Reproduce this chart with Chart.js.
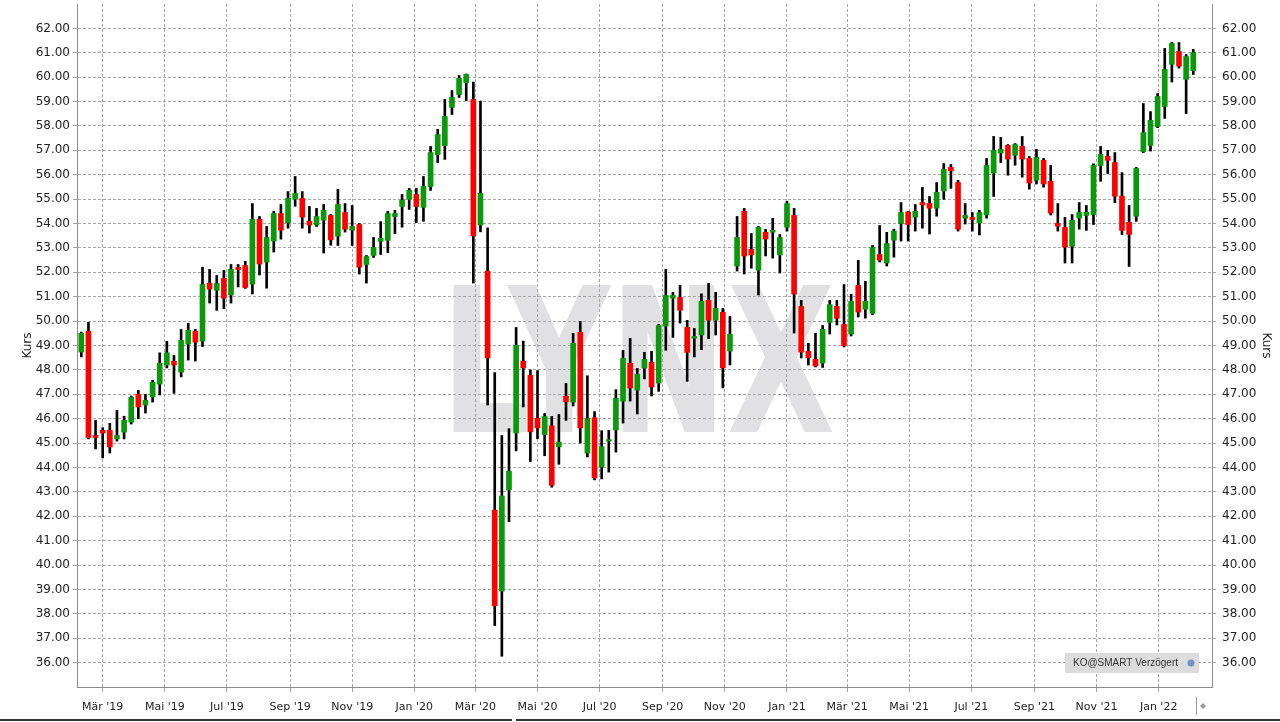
<!DOCTYPE html>
<html>
<head>
<meta charset="utf-8">
<script src="https://cdn.jsdelivr.net/npm/chart.js@4.4.0/dist/chart.umd.min.js"></script>
<style>
html, body { margin: 0; padding: 0; background: #fff; }
#wrap { position: relative; width: 1280px; height: 722px; }
</style>
</head>
<body>
<div id="wrap"><canvas id="kursChart" width="1280" height="722"></canvas></div>
<script>
// weekly candles, first one dated Friday 2019-02-08
const firstWeek = '2019-02-08';

const openP = [48.73,49.58,45.31,45.52,45.52,45.17,45.45,45.86,47.00,46.56,46.89,47.42,48.20,48.35,47.91,49.06,49.58,49.18,51.55,51.26,
  51.75,51.07,52.20,52.28,51.52,54.17,52.42,53.28,54.41,54.02,55.00,55.03,54.09,53.94,54.14,54.33,53.48,54.45,53.73,53.96,
  52.32,52.69,53.27,53.31,54.29,54.70,54.99,55.19,54.66,55.52,56.83,57.20,58.76,59.29,59.78,59.08,53.94,52.05,42.25,38.93,
  43.08,45.41,48.36,47.78,46.01,45.35,45.70,44.85,46.92,46.68,49.54,44.59,46.04,44.02,45.08,45.54,46.72,48.27,47.17,48.08,
  48.31,47.46,49.80,50.94,50.97,49.74,49.30,49.43,50.85,50.04,50.36,48.77,52.26,54.50,52.94,52.09,53.64,53.65,52.71,53.85,
  54.33,50.60,48.76,48.43,48.28,49.95,50.60,49.86,49.47,51.46,50.49,50.32,52.73,52.38,53.32,54.00,54.47,54.26,54.86,54.82,
  54.63,55.33,56.30,55.68,54.22,54.25,54.02,54.35,56.07,56.89,57.20,56.80,57.16,56.67,55.78,56.59,55.73,54.00,53.84,53.07,
  54.22,54.33,54.37,56.38,56.75,56.50,55.12,54.05,54.30,56.95,57.20,57.98,58.80,60.53,61.05,59.91,60.27];
const highP = [49.55,49.95,45.93,45.63,45.81,46.34,46.10,46.93,47.16,47.00,47.57,48.70,49.17,48.59,49.66,49.91,49.66,52.21,52.12,51.87,
  52.08,52.32,52.32,52.45,54.82,54.29,53.88,54.50,54.78,55.31,55.93,55.31,54.70,54.62,54.78,54.37,55.40,54.82,54.74,54.00,
  52.69,53.43,54.08,54.50,54.54,55.19,55.44,55.44,55.93,57.16,57.86,59.09,59.45,60.07,60.13,59.80,59.02,53.82,47.89,45.31,
  45.59,49.74,49.18,48.00,47.97,46.21,46.09,46.17,47.45,49.50,49.99,47.76,46.29,45.51,45.52,47.19,48.80,49.29,48.06,48.72,
  48.76,49.87,52.12,51.18,51.46,50.03,49.70,51.12,51.55,51.18,50.52,50.19,54.29,54.62,53.59,53.88,53.76,54.21,53.55,54.91,
  54.62,50.85,49.09,49.50,49.82,50.85,50.85,51.50,51.10,52.49,51.63,53.10,53.92,53.64,53.77,54.86,54.50,54.78,55.48,55.11,
  55.68,56.46,56.42,55.77,54.82,54.45,54.54,56.67,57.57,57.53,57.24,57.28,57.57,56.75,57.04,56.67,56.38,54.82,54.25,54.37,
  54.86,54.74,56.45,57.16,57.00,56.91,56.09,54.74,56.30,58.92,58.59,59.33,61.18,61.42,61.42,60.93,61.14];
const lowP = [48.53,45.17,44.76,44.39,44.59,45.08,45.17,45.78,46.00,46.23,46.68,46.97,48.08,47.04,47.71,48.40,48.36,48.96,50.74,50.44,
  50.51,50.74,51.40,51.34,51.11,51.89,51.35,52.83,53.36,53.81,54.71,53.81,53.61,53.88,52.79,53.11,53.10,53.65,53.10,51.93,
  51.56,52.61,52.73,52.81,53.59,53.85,54.58,54.04,54.09,55.36,56.50,56.63,58.47,59.17,59.04,51.56,53.66,46.56,37.52,36.26,
  41.78,44.68,46.48,44.24,45.18,44.48,43.19,44.13,45.93,46.52,45.00,44.43,43.49,43.53,43.81,44.63,45.82,46.72,46.19,47.63,
  46.93,47.12,48.80,49.33,49.92,47.53,48.53,48.83,49.28,49.43,47.26,48.20,52.05,51.93,52.17,51.07,52.67,52.58,51.97,53.69,
  49.51,48.49,48.20,48.12,48.10,49.47,49.84,48.94,49.39,50.17,50.12,50.27,52.42,52.26,52.62,53.28,53.28,53.69,53.81,53.57,
  54.30,54.99,55.44,53.69,53.98,53.69,53.53,54.22,55.11,56.50,55.98,56.39,55.90,55.41,55.62,55.49,54.35,53.69,52.38,52.38,
  53.77,53.72,53.96,55.73,56.05,54.86,53.55,52.24,54.09,56.91,56.97,57.93,58.31,59.80,60.37,58.51,60.11];
const closeP = [49.50,45.23,45.23,45.41,44.84,45.31,45.93,46.87,46.48,46.75,47.49,48.27,48.70,48.20,49.21,49.62,49.14,51.50,51.31,51.54,
  50.94,52.12,52.12,51.38,54.17,52.34,53.43,54.41,53.73,55.03,55.23,54.26,53.94,54.29,54.54,53.33,54.78,53.77,53.88,52.21,
  52.65,53.02,53.39,54.41,54.41,54.95,55.36,54.70,55.52,56.91,57.65,58.39,59.17,59.95,60.11,53.49,55.24,48.49,38.33,42.83,
  43.85,49.01,48.08,45.46,45.62,46.09,43.27,45.04,46.69,49.09,45.62,46.00,43.57,44.85,45.14,46.83,48.47,47.26,47.82,48.43,
  47.30,49.82,51.05,51.05,50.45,48.72,49.37,50.81,50.04,50.52,48.08,49.46,53.43,52.67,52.71,53.84,53.36,53.72,53.43,54.82,
  51.11,48.73,48.50,48.16,49.66,50.68,50.12,49.00,50.81,50.37,50.81,53.02,52.50,53.18,53.69,54.45,53.96,54.50,54.76,54.63,
  55.28,56.22,56.16,53.77,54.33,54.17,54.45,56.38,57.00,57.04,56.64,57.24,56.64,55.66,56.71,55.62,54.43,53.89,53.03,54.13,
  54.45,54.46,56.38,56.83,56.59,55.12,53.72,53.55,56.26,57.73,58.23,59.21,60.32,61.38,60.45,60.85,61.01];

const tickDates = ['2019-03-01','2019-05-01','2019-07-01','2019-09-01','2019-11-01','2020-01-01','2020-03-01','2020-05-01','2020-07-01',
  '2020-09-01','2020-11-01','2021-01-01','2021-03-01','2021-05-01','2021-07-01','2021-09-01','2021-11-01','2022-01-01'];
const tickLabels = ["Mär '19","Mai '19","Jul '19","Sep '19","Nov '19","Jan '20","Mär '20","Mai '20","Jul '20",
  "Sep '20","Nov '20","Jan '21","Mär '21","Mai '21","Jul '21","Sep '21","Nov '21","Jan '22"];
const priceTicks = [36,37,38,39,40,41,42,43,44,45,46,47,48,49,50,51,52,53,54,55,56,57,58,59,60,61,62];

const base = Date.UTC(2019, 2, 1);
function dayOf(s) {
  const p = s.split('-');
  return (Date.UTC(+p[0], +p[1] - 1, +p[2]) - base) / 86400000;
}
const firstDay = dayOf(firstWeek);
const xs = openP.map((_, i) => firstDay + 7 * i);
const tickPos = tickDates.map(dayOf);

const bodies = xs.map((x, i) => ({ x: x, y: [openP[i], closeP[i]] }));
const wicks = xs.map((x, i) => ({ x: x, y: [lowP[i], highP[i]] }));
const bodyColors = closeP.map((c, i) => c >= openP[i] ? '#0a990a' : '#ff0000');

const gridCol = '#a8a8a8';
const axisCol = '#8c8c8c';
const txtCol = '#222';

Chart.defaults.font.family = '"DejaVu Sans", sans-serif';
Chart.defaults.font.size = 11;

const decor = {
  id: 'decor',
  beforeDraw(chart) {
    const ctx = chart.ctx;
    ctx.save();
    ctx.fillStyle = '#fff';
    ctx.fillRect(0, 0, chart.width, chart.height);
    // LYNX watermark
    ctx.fillStyle = '#e1e1e3';
    ctx.font = 'bold 200px "DejaVu Sans"';
    ctx.textBaseline = 'alphabetic';
    const w = ctx.measureText('LYNX').width;
    ctx.translate(441, 432);
    ctx.scale(394 / w, 147 / (0.729 * 200));
    ctx.fillText('LYNX', 0, 0);
    ctx.restore();
  },
  afterDraw(chart) {
    const ctx = chart.ctx;
    ctx.save();
    // info box
    ctx.fillStyle = '#dcdcdc';
    ctx.fillRect(1065, 653, 134, 20);
    ctx.fillStyle = '#333';
    ctx.font = '10px "Liberation Sans"';
    ctx.textBaseline = 'middle';
    ctx.fillText('KO@SMART Verzögert', 1073, 663);
    ctx.fillStyle = '#6f93c4';
    ctx.beginPath();
    ctx.arc(1191, 663, 3.5, 0, Math.PI * 2);
    ctx.fill();
    // navigator bits
    ctx.strokeStyle = '#999';
    ctx.lineWidth = 1;
    ctx.beginPath();
    ctx.moveTo(1196.5, 697); ctx.lineTo(1196.5, 715);
    ctx.stroke();
    ctx.fillStyle = '#999';
    ctx.beginPath();
    ctx.moveTo(1200, 706); ctx.lineTo(1203, 703); ctx.lineTo(1206, 706); ctx.lineTo(1203, 709);
    ctx.fill();
    ctx.strokeStyle = '#333';
    ctx.lineWidth = 2;
    ctx.beginPath();
    ctx.moveTo(0, 720); ctx.lineTo(512, 720);
    ctx.moveTo(516, 720); ctx.lineTo(1280, 720);
    ctx.stroke();
    ctx.restore();
  }
};

function yAxis(pos, w, pad, titlePad) {
  return {
    position: pos,
    min: 35,
    max: 63,
    afterBuildTicks: s => { s.ticks = priceTicks.map(v => ({ value: v })); },
    afterFit: s => { s.width = w; s.paddingTop = 0; s.paddingBottom = 0; },
    ticks: { color: txtCol, padding: pad, font: { size: 12 }, callback: v => v.toFixed(2) },
    grid: { color: gridCol, tickLength: 4, drawOnChartArea: pos === 'left' },
    border: { color: axisCol, dash: [3, 2] },
    title: { display: true, text: 'Kurs', color: txtCol, font: { size: 12 }, padding: { top: titlePad, bottom: 0 } }
  };
}

new Chart(document.getElementById('kursChart'), {
  type: 'bar',
  data: {
    datasets: [
      { label: 'Docht', data: wicks, backgroundColor: '#000', barThickness: 2, grouped: false, order: 2 },
      { label: 'Kerze', data: bodies, backgroundColor: bodyColors, barThickness: 5, grouped: false, order: 1, minBarLength: 1 }
    ]
  },
  options: {
    responsive: false,
    animation: false,
    layout: { padding: { top: 4, left: 0, right: 0, bottom: 0 } },
    plugins: { legend: { display: false }, tooltip: { enabled: false } },
    scales: {
      x: {
        type: 'linear',
        offset: false,
        min: -25.24,
        max: 1089.4,
        afterBuildTicks: s => { s.ticks = tickPos.map(v => ({ value: v })); },
        afterFit: s => { s.height = 35; s.paddingLeft = 0; s.paddingRight = 0; },
        ticks: {
          color: txtCol, maxRotation: 0, autoSkip: false, padding: 9,
          callback: v => { const i = tickPos.indexOf(v); return i >= 0 ? tickLabels[i] : ''; }
        },
        grid: { color: gridCol, tickLength: 5, offset: false },
        border: { color: axisCol, dash: [3, 2] }
      },
      y: yAxis('left', 77, 3, 21),
      y2: yAxis('right', 68, 6, 7)
    }
  },
  plugins: [decor]
});
</script>
</body>
</html>
